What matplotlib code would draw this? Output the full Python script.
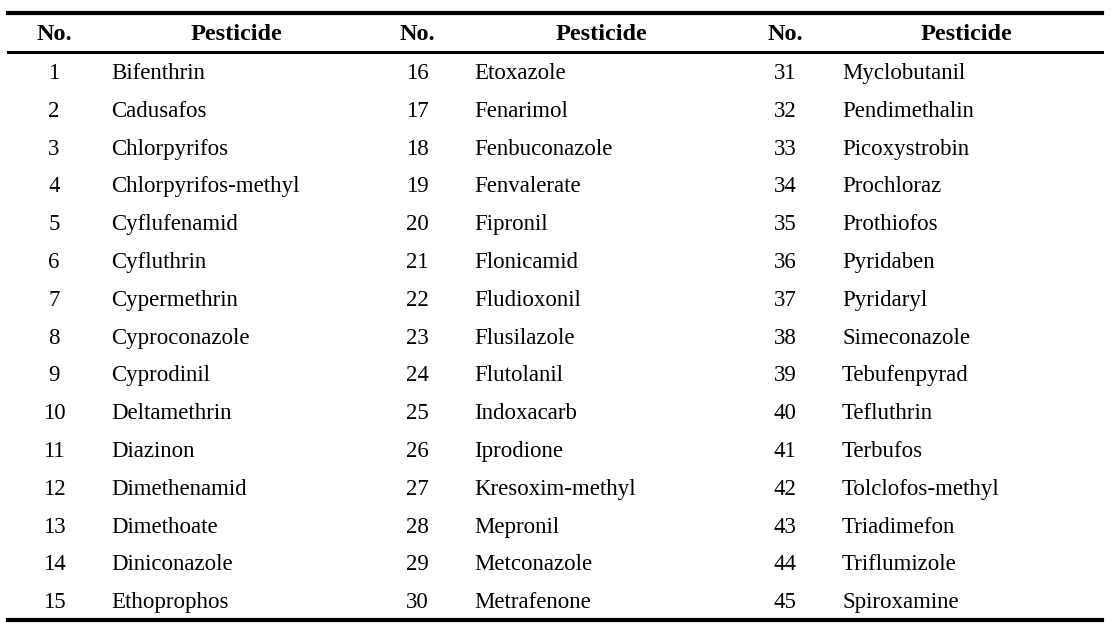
import matplotlib.pyplot as plt

numbers = list(range(1, 46))
pesticides = [
    "Bifenthrin", "Cadusafos", "Chlorpyrifos", "Chlorpyrifos-methyl", "Cyflufenamid",
    "Cyfluthrin", "Cypermethrin", "Cyproconazole", "Cyprodinil", "Deltamethrin",
    "Diazinon", "Dimethenamid", "Dimethoate", "Diniconazole", "Ethoprophos",
    "Etoxazole", "Fenarimol", "Fenbuconazole", "Fenvalerate", "Fipronil",
    "Flonicamid", "Fludioxonil", "Flusilazole", "Flutolanil", "Indoxacarb",
    "Iprodione", "Kresoxim-methyl", "Mepronil", "Metconazole", "Metrafenone",
    "Myclobutanil", "Pendimethalin", "Picoxystrobin", "Prochloraz", "Prothiofos",
    "Pyridaben", "Pyridaryl", "Simeconazole", "Tebufenpyrad", "Tefluthrin",
    "Terbufos", "Tolclofos-methyl", "Triadimefon", "Triflumizole", "Spiroxamine",
]
headers = ["No.", "Pesticide"]
rows_per_col = 15

W, H = 1112, 634
fig = plt.figure(figsize=(W / 100, H / 100), dpi=100)
ax = fig.add_axes([0, 0, 1, 1])
ax.set_xlim(0, W)
ax.set_ylim(H, 0)
ax.axis('off')

font = "Liberation Serif"
fs = 16.5
fs_head = 17.5

# layout in pixel coordinates (baselines)
no_x = [54, 417, 785]
name_x = [111, 474, 842]
head_x = [236, 601, 966]
y_head = 40
y_first = 79
dy = 37.8

for c in range(3):
    ax.text(no_x[c], y_head, headers[0], ha='center', va='baseline',
            fontsize=fs_head, fontweight='bold', family=font)
    ax.text(head_x[c], y_head, headers[1], ha='center', va='baseline',
            fontsize=fs_head, fontweight='bold', family=font)

for i, (n, name) in enumerate(zip(numbers, pesticides)):
    c, r = divmod(i, rows_per_col)
    y = y_first + r * dy
    ax.text(no_x[c], y, str(n), ha='center', va='baseline', fontsize=fs, family=font)
    ax.text(name_x[c], y, name, ha='left', va='baseline', fontsize=fs, family=font)

ax.plot([8, 1102], [13, 13], color='black', lw=3)
ax.plot([8, 1102], [52, 52], color='black', lw=2.2)
ax.plot([8, 1102], [620, 620], color='black', lw=3)

fig.savefig("out.png", dpi=100)
